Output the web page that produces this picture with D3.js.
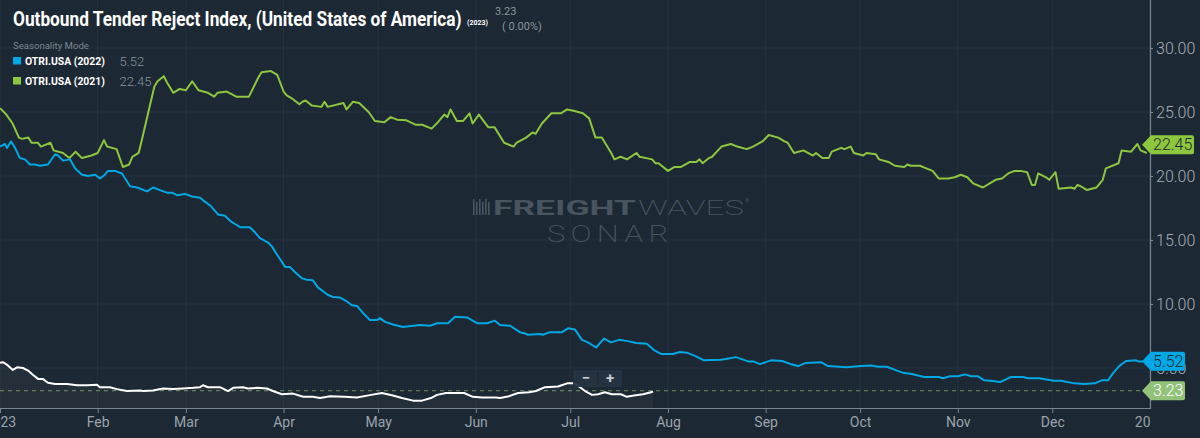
<!DOCTYPE html>
<html>
<head>
<meta charset="utf-8">
<script src="https://cdn.jsdelivr.net/npm/d3@7"></script>
<style>
  html, body { margin: 0; padding: 0; background: #1c2833; }
  svg { display: block; }
  text { font-family: Roboto, "Noto Sans", sans-serif; }
</style>
</head>
<body>
<svg id="chart" width="1200" height="438"></svg>
<script>
// ---------- DATA (day offset from Jan 1, value) ----------
const series2023 = [[0,5.4],[1,5.45],[2.5,5.2],[4.1,4.85],[5.4,5.05],[7.3,5.0],[8.9,4.8],[10.5,4.45],[12.1,4.15],[13.6,4.15],[15.2,3.85],[17.5,3.75],[21.3,3.75],[24.4,3.65],[27.6,3.65],[30.8,3.7],[31.7,3.5],[34.9,3.5],[37.1,3.35],[40.3,3.2],[44.4,3.25],[45.4,3.2],[48.6,3.25],[51.7,3.4],[54.9,3.35],[58.1,3.4],[61.3,3.45],[63.5,3.5],[64.4,3.65],[66,3.5],[69.8,3.5],[72.4,3.2],[74,3.45],[77.1,3.5],[78.7,3.4],[81.6,3.45],[84.7,3.4],[86.6,3.2],[89.5,2.95],[93,3.0],[96.2,2.75],[99.3,2.75],[101.6,2.65],[104.7,2.8],[109.2,2.75],[113.3,2.7],[117.8,2.9],[121.2,3.05],[124.7,2.85],[127.6,2.65],[131.1,2.45],[133.9,2.45],[136.8,2.65],[138.7,2.9],[141.6,3.05],[147.3,3.05],[150.1,2.75],[153,2.7],[157.4,2.7],[158.7,2.65],[161.6,2.8],[164.4,3.05],[167.9,3.1],[170.1,3.2],[173,3.5],[177.1,3.55],[180,3.8],[182.2,3.8],[184.1,3.5],[185.7,3.2],[187.9,2.9],[189.8,2.95],[192,3.1],[194.2,2.95],[197.1,2.95],[199,2.75],[201.2,2.85],[204.1,2.95],[207.3,3.15]];

const series2022 = [[0,22.3],[1.6,22.5],[2.2,22.2],[3.5,22.7],[4.8,22.2],[6.3,21.4],[7.9,21.3],[9.5,20.9],[11.1,20.9],[12.7,20.8],[15.2,20.9],[17.5,21.7],[18.4,21.6],[20,21.2],[22.2,21.3],[23.8,20.6],[26,20.1],[27.9,20.0],[30.2,20.1],[31.7,19.8],[33.3,20.1],[34.3,20.4],[36.5,20.4],[38.7,20.2],[41.3,19.2],[43.5,19.1],[46.7,18.8],[48.6,19.1],[50.8,18.9],[53,18.7],[54.6,18.7],[56.2,18.5],[58.7,18.6],[60.9,18.4],[63.5,18.3],[65,18.0],[66.7,17.7],[69.2,17.0],[71.4,16.9],[73,16.5],[74.6,16.25],[76.2,16.0],[79.3,16.0],[80.9,15.6],[82.5,15.15],[85.1,14.8],[86.3,14.5],[88.2,13.75],[90.5,12.9],[92,12.9],[93.6,12.5],[95.9,12.0],[97.4,11.9],[99.3,11.85],[100.9,11.3],[104.1,10.7],[105.7,10.55],[107.9,10.5],[110.1,10.2],[111.7,9.9],[113.3,9.85],[115.2,9.3],[117.4,8.75],[119.7,8.75],[120.6,8.9],[122.2,8.6],[124.7,8.4],[127.9,8.2],[131.1,8.3],[133.3,8.35],[136.5,8.3],[138.7,8.5],[142.2,8.5],[144.4,9.0],[148.2,8.95],[151.4,8.5],[154.6,8.5],[157.1,8.7],[158.7,8.35],[161.9,8.3],[165,7.8],[166.6,7.7],[167.6,7.6],[171.4,7.65],[172.3,7.6],[174.6,7.8],[178.4,7.8],[180.3,8.1],[182.5,8.0],[184.7,7.2],[186.6,7.0],[189.2,6.6],[190.4,6.95],[191.7,7.3],[193.9,7.0],[196.5,7.2],[199.3,7.1],[201.9,6.95],[205.3,6.9],[207.6,6.4],[209.8,6.1],[213.6,6.1],[215.8,6.25],[218,6.2],[220.6,5.95],[223.4,5.6],[228.8,5.65],[230.4,5.7],[233.6,5.85],[237.7,5.5],[239.3,5.5],[241.2,5.3],[244.7,5.6],[248.2,5.55],[251,5.3],[253.3,5.15],[255.8,5.4],[260.6,5.45],[262.8,5.15],[266.3,5.1],[268.8,5.05],[273.3,5.15],[276.4,5.2],[278.7,5.1],[281.5,5.1],[284.1,4.85],[286.9,4.6],[289.1,4.55],[293.3,4.3],[298,4.3],[299.3,4.2],[301.5,4.35],[304.1,4.35],[306.3,4.5],[308.2,4.35],[310.4,4.35],[312.3,4.05],[314.5,4.0],[317.4,3.9],[320.9,4.3],[324.7,4.3],[326.3,4.2],[329.8,4.2],[334.5,4.0],[336.8,4.0],[340.9,3.8],[344.1,3.75],[347.5,3.8],[349.8,4.05],[351.7,4.05],[353.3,4.6],[355.2,5.15],[357.4,5.55],[360.6,5.6],[361.5,5.5],[362.8,5.5]];

const series2021 = [[0,25.3],[2,24.8],[4,24.1],[6,23.0],[7,22.9],[9,23.0],[10,22.6],[12,22.6],[13,22.3],[16,22.6],[17,22.0],[20,21.8],[22,21.4],[24,21.9],[26,21.4],[29,21.6],[31,21.8],[33,22.8],[34,22.3],[37,22.1],[39,20.7],[41,20.9],[42,21.5],[44,21.8],[45,22.8],[47,24.9],[49,27.0],[50,27.4],[52,27.8],[53,27.3],[55,26.5],[57,26.8],[59,26.7],[61,27.4],[63,26.7],[66,26.5],[68,26.2],[69,26.5],[72,26.6],[75,26.2],[79,26.2],[82,27.7],[83,28.1],[86,28.2],[88,27.9],[90,26.6],[91,26.3],[93,26.0],[95,25.6],[96,25.8],[97,25.9],[99,25.5],[102,25.4],[103,25.8],[104,25.4],[109,25.7],[110,25.2],[112,25.8],[114,25.7],[117,25.0],[119,24.3],[122,24.2],[124,24.6],[126,24.4],[129,24.35],[132,24.0],[134,24.0],[137,23.7],[139,24.2],[141,24.8],[142,24.6],[143,25.2],[145,24.3],[147,24.3],[149,24.9],[150,24.1],[152,24.8],[155,23.8],[157,23.8],[160,22.6],[163,22.3],[164,22.6],[167,23.0],[169,23.4],[170,23.3],[172,24.1],[175,24.9],[178,24.9],[180,25.2],[182,25.1],[185,24.9],[187,24.5],[189,23.0],[191,23.0],[194,21.8],[195,21.3],[197,21.5],[199,21.3],[202,21.8],[203,21.5],[207,21.3],[208,21.0],[209,21.0],[212,20.4],[214,20.7],[216,20.7],[219,21.1],[221,21.1],[222,21.3],[223,21.0],[225,21.4],[226,21.5],[229,22.3],[232,22.5],[234,22.3],[237,22.1],[239,22.3],[242,22.7],[244,23.2],[247,23.0],[249,22.7],[250,22.6],[252,21.8],[255,22.0],[258,21.6],[259,21.8],[261,21.4],[263,21.4],[264,21.9],[267,22.2],[268,22.1],[270,22.3],[271,21.8],[274,21.6],[275,21.8],[278,21.7],[279,21.3],[282,21.1],[284,20.8],[287,20.7],[288,20.9],[289,20.8],[292,20.8],[294,20.6],[296,20.4],[298,19.8],[301,19.8],[303,19.9],[305,20.1],[307,19.9],[309,19.4],[312,19.1],[314,19.4],[316,19.7],[318,19.8],[320,20.2],[322,20.4],[324,20.4],[326,20.3],[327.5,19.3],[328.5,19.3],[329.5,20.2],[332,19.9],[333,19.7],[335,20.3],[336,19.0],[340,19.1],[341,19.0],[342,19.3],[343,19.2],[345,18.9],[348,19.1],[350,19.7],[351,20.6],[355,21.0],[356,22.0],[359,21.9],[361,22.5],[362,22.0],[364,21.8]];

const yTicks = [5, 10, 15, 20, 25, 30];
const lastValues = { y2023: 3.23, y2022: 5.52, y2021: 22.45 };
const legendItems = [
  { name: "OTRI.USA (2022)", value: "5.52", color: "#00a8e6" },
  { name: "OTRI.USA (2021)", value: "22.45", color: "#8dc63f" }
];
const titleText = "Outbound Tender Reject Index, (United States of America)";
const headerValue = "3.23";
const headerChange = "( 0.00%)";

// ---------- CHART ----------
const svg = d3.select("#chart");
const W = 1200, H = 438;
const plotW = 1150, plotB = 408;
const base = new Date(2023, 0, 1);
const toDate = d => new Date(2023, 0, 1 + Math.floor(d[0]), Math.round((d[0] % 1) * 24));

const x = d3.scaleTime().domain([base, new Date(2024, 0, 1)]).range([0, plotW]);
const y = d3.scaleLinear().domain([1.875, 33.75]).range([plotB, 0]);

// condensed text helper: scales the text horizontally to a target width
function fitText(sel, px, py, width) {
  sel.each(function() {
    const n = this.getComputedTextLength() || width;
    d3.select(this).attr("x", 0).attr("y", 0)
      .attr("transform", `translate(${px},${py}) scale(${width / n},1)`);
  });
  return sel;
}

svg.append("rect").attr("width", W).attr("height", H).attr("fill", "#1c2833");

// grid
const months = d3.timeMonth.range(base, new Date(2024, 0, 2));
svg.append("g").selectAll("line").data(months).join("line")
  .attr("x1", d => x(d)).attr("x2", d => x(d)).attr("y1", 0).attr("y2", plotB)
  .attr("stroke", "#243140").attr("stroke-width", 1);
svg.append("g").selectAll("line").data(yTicks).join("line")
  .attr("x1", 0).attr("x2", plotW).attr("y1", d => y(d)).attr("y2", d => y(d))
  .attr("stroke", "#243140").attr("stroke-width", 1);

// watermark
const wm = svg.append("g").attr("fill", "#485460");
const icon = wm.append("g");
[0,3,6,9,12,15].forEach((o, i) => {
  icon.append("rect").attr("x", 473 + o).attr("y", 199 + (i % 2 ? 3 : 0)).attr("width", 1.6).attr("height", i % 2 ? 13 : 16);
});
fitText(wm.append("text").attr("font-family", "DejaVu Sans").attr("font-weight", 700)
  .attr("font-size", 21).text("FREIGHT"), 493, 215, 143);
fitText(wm.append("text").attr("font-family", "DejaVu Sans").attr("font-weight", 200)
  .attr("font-size", 21).text("WAVES"), 638, 215, 106);
wm.append("text").attr("x", 745).attr("y", 203).attr("font-size", 6).text("®");
fitText(wm.append("text").attr("font-family", "DejaVu Sans").attr("font-weight", 200)
  .attr("font-size", 23).attr("letter-spacing", 4).text("SONAR"), 547, 242, 127);

// reference dashed line
svg.append("line").attr("x1", 0).attr("x2", plotW).attr("y1", y(lastValues.y2023)).attr("y2", y(lastValues.y2023))
  .attr("stroke", "#5f7d55").attr("stroke-width", 1.2).attr("stroke-dasharray", "4,4");

// area under 2023
const area = d3.area().x(d => x(toDate(d))).y0(plotB).y1(d => y(d[1]));
svg.append("path").datum(series2023).attr("d", area).attr("fill", "rgba(255,255,255,0.035)");

const line = d3.line().x(d => x(toDate(d))).y(d => y(d[1]));
svg.append("path").datum(series2021).attr("d", line).attr("fill", "none").attr("stroke", "#8dc63f").attr("stroke-width", 2).attr("stroke-linejoin", "round");
svg.append("path").datum(series2022).attr("d", line).attr("fill", "none").attr("stroke", "#00a8e6").attr("stroke-width", 2).attr("stroke-linejoin", "round");
svg.append("path").datum(series2023).attr("d", line).attr("fill", "none").attr("stroke", "#ffffff").attr("stroke-width", 2).attr("stroke-linejoin", "round");

// zoom control
const zc = svg.append("g");
zc.append("rect").attr("x", 573).attr("y", 370).attr("width", 49).attr("height", 17).attr("rx", 2).attr("fill", "#263442").attr("opacity", 0.95);
zc.append("line").attr("x1", 598).attr("x2", 598).attr("y1", 372).attr("y2", 385).attr("stroke", "#1c2833").attr("stroke-width", 1);
zc.append("text").attr("x", 586).attr("y", 383).attr("text-anchor", "middle").attr("fill", "#c5ccd3").attr("font-size", 15).attr("font-weight", 700).text("−");
zc.append("text").attr("x", 610).attr("y", 383).attr("text-anchor", "middle").attr("fill", "#c5ccd3").attr("font-size", 15).attr("font-weight", 700).text("+");

// bottom axis (labels clipped to the plot width, like the reference)
svg.append("defs").append("clipPath").attr("id", "clipX").append("rect").attr("x", 0).attr("y", -2).attr("width", plotW).attr("height", 40);
const xAxis = d3.axisBottom(x).tickValues(months).tickSize(5).tickPadding(4)
  .tickFormat(d => d.getMonth() === 0 ? d3.timeFormat("%Y")(d) : d3.timeFormat("%b")(d));
const gx = svg.append("g").attr("transform", `translate(0,${plotB})`).attr("clip-path", "url(#clipX)").call(xAxis);
gx.select(".domain").remove();
gx.selectAll(".tick line").attr("stroke", "#7d868f");
gx.selectAll(".tick text").attr("fill", "#9aa3ac").attr("font-size", 14).attr("font-family", "Roboto");
svg.append("line").attr("x1", 0).attr("x2", plotW).attr("y1", plotB + 0.5).attr("y2", plotB + 0.5).attr("stroke", "#7d868f").attr("stroke-width", 1.2);

// right axis
const yAxis = d3.axisRight(y).tickValues(yTicks).tickFormat(d3.format(".2f")).tickSize(3).tickPadding(3);
const gy = svg.append("g").attr("transform", `translate(${plotW},0)`).call(yAxis);
gy.select(".domain").remove();
gy.selectAll(".tick line").attr("stroke", "#7d868f");
gy.selectAll(".tick text").attr("fill", "#a7afb7").attr("font-size", 16).attr("font-family", "Roboto").attr("font-weight", 300);
svg.append("line").attr("x1", plotW + 0.5).attr("x2", plotW + 0.5).attr("y1", 0).attr("y2", plotB + 1).attr("stroke", "#7d868f").attr("stroke-width", 1.2);

// end labels
function endLabel(v, txt, fill, textFill, w) {
  const yy = y(v), h = 19, x0 = 1142, x1 = 1151, x2 = x1 + w;
  const p = `M${x0},${yy} L${x1},${yy - h/2} L${x2 - 2},${yy - h/2} Q${x2},${yy - h/2} ${x2},${yy - h/2 + 2} L${x2},${yy + h/2 - 2} Q${x2},${yy + h/2} ${x2 - 2},${yy + h/2} L${x1},${yy + h/2} Z`;
  svg.append("path").attr("d", p).attr("fill", fill);
  svg.append("text").attr("x", x1 + 2).attr("y", yy).attr("dy", "0.36em").attr("fill", textFill)
    .attr("font-size", 16).attr("font-weight", 300).text(txt);
}
endLabel(lastValues.y2021, "22.45", "#8dc63f", "#1c2833", 43);
endLabel(lastValues.y2022, "5.52", "#00a8e6", "#1c2833", 34);
endLabel(lastValues.y2023, "3.23", "#92c27a", "#ffffff", 34);

// title & header
fitText(svg.append("text").attr("fill", "#ffffff").attr("font-size", 20.5).attr("font-weight", 700).text(titleText), 13, 26, 449);
fitText(svg.append("text").attr("fill", "#ffffff").attr("font-size", 7).attr("font-weight", 700).text("(2023)"), 467, 25, 21);
svg.append("text").attr("x", 495).attr("y", 15).attr("fill", "#8a949e").attr("font-size", 11).text(headerValue);
svg.append("text").attr("x", 502).attr("y", 30).attr("fill", "#8a949e").attr("font-size", 11).text(headerChange);

fitText(svg.append("text").attr("fill", "#7d8792").attr("font-size", 9.5).text("Seasonality Mode"), 13, 49, 76);
const lg = svg.append("g").selectAll("g").data(legendItems).join("g")
  .attr("transform", (d, i) => `translate(13,${57 + i * 20})`);
lg.append("rect").attr("width", 8).attr("height", 7.5).attr("fill", d => d.color);
lg.append("text").attr("fill", "#ffffff").attr("font-size", 10.5).attr("font-weight", 700)
  .text(d => d.name).call(s => fitText(s, 12, 7.5, 80));
lg.append("text").attr("x", 106.5).attr("y", 8.5).attr("fill", "#8a949e").attr("font-size", 13).attr("font-weight", 300).text(d => d.value);
</script>
</body>
</html>
